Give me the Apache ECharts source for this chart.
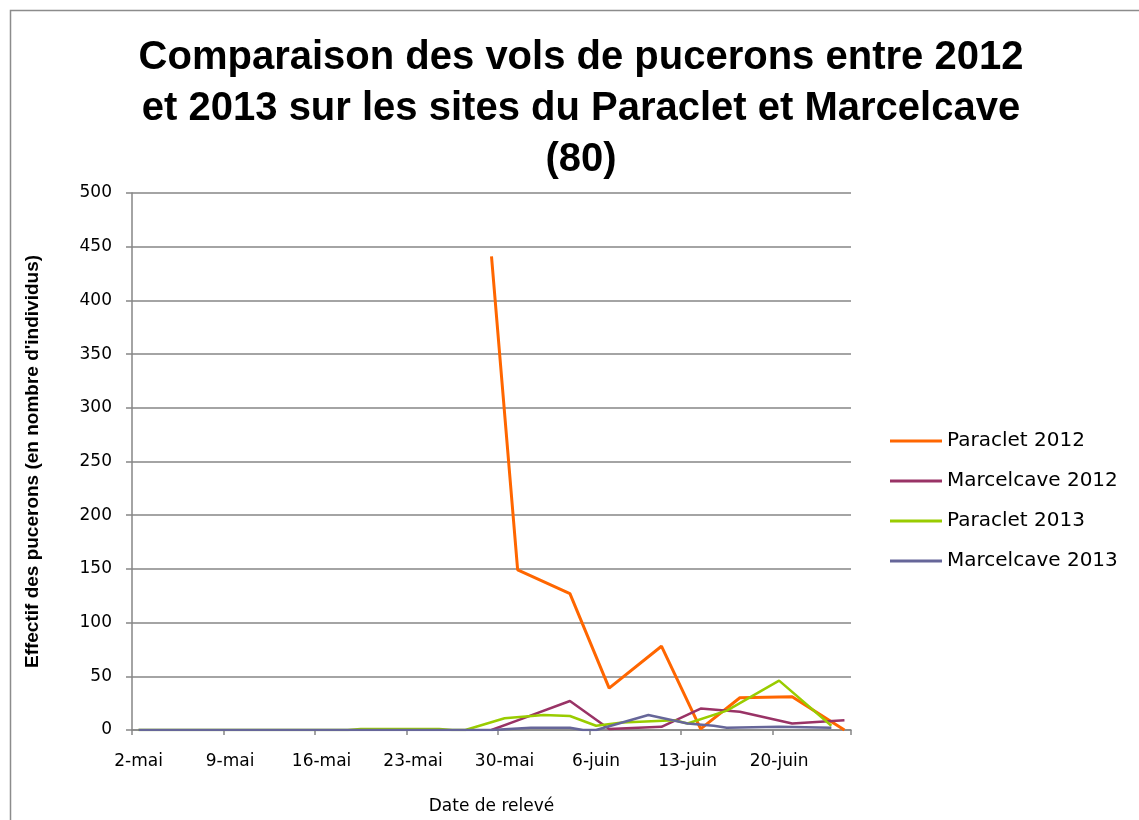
<!DOCTYPE html>
<html>
<head>
<meta charset="utf-8">
<script src="https://cdn.jsdelivr.net/npm/echarts@6/dist/echarts.min.js"></script>
<style>
  html, body { margin: 0; padding: 0; background: #fff; }
  #chart { width: 1139px; height: 820px; }
</style>
</head>
<body>
<div id="chart"></div>
<script>
//  jours du relevé (axe des dates, un par jour)
const days = [
    '2-mai', '3-mai', '4-mai', '5-mai', '6-mai', '7-mai', '8-mai', '9-mai', '10-mai', '11-mai',
    '12-mai', '13-mai', '14-mai', '15-mai', '16-mai', '17-mai', '18-mai', '19-mai', '20-mai', '21-mai',
    '22-mai', '23-mai', '24-mai', '25-mai', '26-mai', '27-mai', '28-mai', '29-mai', '30-mai', '31-mai',
    '1-juin', '2-juin', '3-juin', '4-juin', '5-juin', '6-juin', '7-juin', '8-juin', '9-juin', '10-juin',
    '11-juin', '12-juin', '13-juin', '14-juin', '15-juin', '16-juin', '17-juin', '18-juin', '19-juin', '20-juin',
    '21-juin', '22-juin', '23-juin', '24-juin', '25-juin'
];

const seriesNames = ['Paraclet 2012', 'Marcelcave 2012', 'Paraclet 2013', 'Marcelcave 2013'];

//  2012
const dates2012 = ['29-mai', '31-mai', '4-juin', '7-juin', '11-juin', '14-juin', '17-juin', '21-juin', '25-juin'];
const paraclet2012 = [441, 149, 127, 39, 78, 1, 30, 31, 0];
const marcelcave2012 = [0, 9, 27, 1, 3, 20, 17, 6, 9];

//  2013
const datesParaclet2013 = ['2-mai', '18-mai', '19-mai', '25-mai', '26-mai', '27-mai', '30-mai', '2-juin', '4-juin',
    '6-juin', '8-juin', '12-juin', '13-juin', '16-juin', '20-juin', '24-juin'];
const paraclet2013 = [0, 0, 1, 1, 0, 0, 11, 14, 13, 4, 7, 9, 6, 18, 46, 4];

const datesMarcelcave2013 = ['2-mai', '29-mai', '1-juin', '4-juin', '5-juin', '6-juin', '10-juin', '13-juin',
    '15-juin', '16-juin', '20-juin', '24-juin'];
const marcelcave2013 = [0, 0, 2, 2, 0, 0, 14, 6, 4, 2, 3, 2];

const colors = ['#FF6600', '#993366', '#99CC00', '#666699'];

function pairs(dates, values) {
    return dates.map(function (d, i) {
        return [d, values[i]];
    });
}

const seriesData = [
    pairs(dates2012, paraclet2012),
    pairs(dates2012, marcelcave2012),
    pairs(datesParaclet2013, paraclet2013),
    pairs(datesMarcelcave2013, marcelcave2013)
];

const axisGrey = '#868686';
const font = '"DejaVu Sans", Verdana, sans-serif';
const boldFont = '"Liberation Sans Narrow", "Liberation Sans", sans-serif';

const chart = echarts.init(document.getElementById('chart'), null, {renderer: 'canvas'});

chart.setOption({
    backgroundColor: '#ffffff',
    animation: false,
    color: colors,
    title: {
        text: 'Comparaison des vols de pucerons entre 2012\net 2013 sur les sites du Paraclet et Marcelcave\n(80)',
        left: 576,
        textAlign: 'center',
        top: 27,
        textStyle: {
            fontFamily: boldFont,
            fontWeight: 'bold',
            fontSize: 40,
            lineHeight: 51,
            color: '#000'
        }
    },
    //  cadre du graphique
    graphic: [{
        type: 'rect',
        shape: {x: 10.5, y: 10.5, width: 1300, height: 1000},
        style: {fill: null, stroke: '#8c8c8c', lineWidth: 1.5},
        silent: true
    }],
    legend: {
        orient: 'vertical',
        left: 890,
        top: 431,
        padding: 0,
        icon: 'rect',
        itemWidth: 52,
        itemHeight: 3,
        itemGap: 20,
        data: seriesNames,
        textStyle: {fontFamily: font, fontSize: 20, color: '#000'}
    },
    grid: {
        left: 132,
        right: 288,
        top: 193,
        bottom: 90
    },
    xAxis: {
        type: 'category',
        data: days,
        boundaryGap: true,
        name: 'Date de relevé',
        nameLocation: 'middle',
        nameGap: 68,
        nameTextStyle: {fontFamily: font, fontSize: 17, color: '#000'},
        axisLine: {lineStyle: {color: axisGrey, width: 1.5}},
        axisTick: {show: true, interval: 6, length: 5, lineStyle: {color: axisGrey, width: 1.5}},
        axisLabel: {interval: 6, margin: 23, fontFamily: font, fontSize: 17, color: '#000'},
        splitLine: {show: false}
    },
    yAxis: {
        type: 'value',
        min: 0,
        max: 500,
        interval: 50,
        name: "Effectif des pucerons (en nombre d'individus)",
        nameLocation: 'middle',
        nameGap: 90,
        nameTextStyle: {
            fontFamily: boldFont,
            fontWeight: 'bold', fontSize: 19, color: '#000'
        },
        axisLine: {show: true, lineStyle: {color: axisGrey, width: 1.5}},
        axisTick: {show: true, length: 6, lineStyle: {color: axisGrey, width: 1.5}},
        axisLabel: {margin: 20, fontFamily: font, fontSize: 17, color: '#000'},
        splitLine: {show: true, lineStyle: {color: axisGrey, width: 1.5}}
    },
    series: seriesNames.map(function (name, i) {
        return {
            name: name,
            type: 'line',
            data: seriesData[i],
            symbol: 'none',
            connectNulls: true,
            lineStyle: {width: i === 0 ? 3 : 2.5, color: colors[i]},
            itemStyle: {color: colors[i]}
        };
    })
});
</script>
</body>
</html>
